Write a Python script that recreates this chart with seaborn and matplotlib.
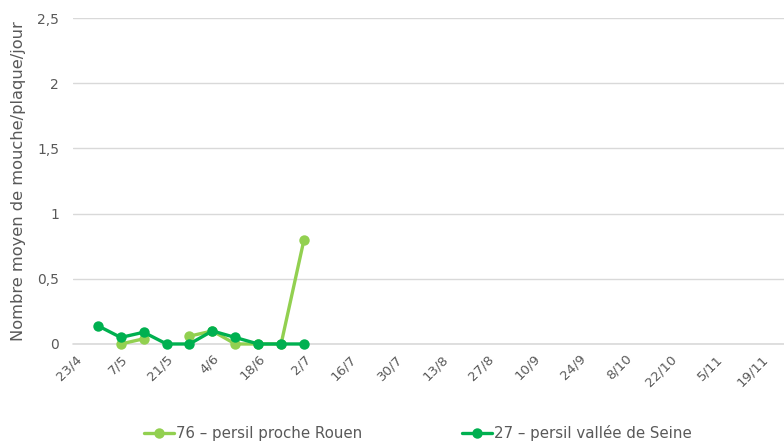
import numpy as np
import pandas as pd
import matplotlib
matplotlib.use("Agg")
import matplotlib.pyplot as plt
import seaborn as sns
from matplotlib.lines import Line2D

# Weekly dates (categories), 23/4 -> 26/11
dates = ["23/4", "30/4", "7/5", "14/5", "21/5", "28/5", "4/6", "11/6", "18/6", "25/6",
         "2/7", "9/7", "16/7", "23/7", "30/7", "6/8", "13/8", "20/8", "27/8", "3/9",
         "10/9", "17/9", "24/9", "1/10", "8/10", "15/10", "22/10", "29/10", "5/11", "12/11",
         "19/11", "26/11"]

rouen_label = "76 \u2013 persil proche Rouen"
seine_label = "27 \u2013 persil vallée de Seine"

rouen = [np.nan, np.nan, 0.0, 0.04, np.nan, 0.06, 0.1, 0.0, 0.0, 0.0, 0.8]
seine = [np.nan, 0.14, 0.05, 0.09, 0.0, 0.0, 0.1, 0.05, 0.0, 0.0, 0.0]

yticks = [0, 0.5, 1, 1.5, 2, 2.5]
ytick_labels = ["0", "0,5", "1", "1,5", "2", "2,5"]

light = "#92D050"
dark = "#00B050"
grey_text = "#595959"

sns.set_theme(style="white")
plt.rcParams['font.family'] = ['DejaVu Sans']

fig = plt.figure(figsize=(7.84, 4.41), dpi=100)
ax = fig.add_axes([0.093, 0.22, 0.907, 0.739])

def draw(vals, color):
    idx = np.arange(len(vals))
    s = pd.Series(vals, index=idx, dtype=float)
    groups = s.isna().cumsum()
    for _, seg in s.dropna().groupby(groups[s.notna()]):
        df = pd.DataFrame({"x": seg.index, "y": seg.values})
        sns.lineplot(data=df, x="x", y="y", ax=ax, color=color, lw=2.4,
                     marker="o", markersize=7.5, markeredgewidth=0, legend=False,
                     clip_on=False, zorder=3)

ax.axhline(0, color="#D9D9D9", lw=1.2, clip_on=False, zorder=1)
draw(rouen, light)
draw(seine, dark)

ax.set_xlim(-0.09, 30.96)
ax.set_ylim(0, 2.5)
ax.set_yticks(yticks)
ax.set_yticklabels(ytick_labels, color=grey_text, fontsize=10)
xt = list(range(0, len(dates), 2))
ax.set_xticks(xt)
ax.set_xticklabels([dates[i] for i in xt], rotation=45, ha="right",
                   rotation_mode="anchor", color=grey_text, fontsize=9.5)
ax.tick_params(axis="x", length=0, pad=6)
ax.tick_params(axis="y", length=0, pad=10)
ax.grid(axis="y", color="#D9D9D9", lw=1, zorder=0)
ax.set_axisbelow(True)
for sp in ax.spines.values():
    sp.set_visible(False)
ax.set_xlabel("")
ax.set_ylabel("Nombre moyen de mouche/plaque/jour", color=grey_text, fontsize=11.7, labelpad=8)

handles = [Line2D([0], [0], color=light, lw=2.4, marker="o", markersize=7.5, markeredgewidth=0),
           Line2D([0], [0], color=dark, lw=2.4, marker="o", markersize=7.5, markeredgewidth=0)]
leg = fig.legend(handles, [rouen_label, seine_label], loc="center", bbox_to_anchor=(0.533, 0.018),
                 ncol=2, frameon=False, fontsize=10.8, columnspacing=6.6, handlelength=2.0,
                 handletextpad=0.15)
for t in leg.get_texts():
    t.set_color(grey_text)

fig.savefig("out.png", dpi=100)
